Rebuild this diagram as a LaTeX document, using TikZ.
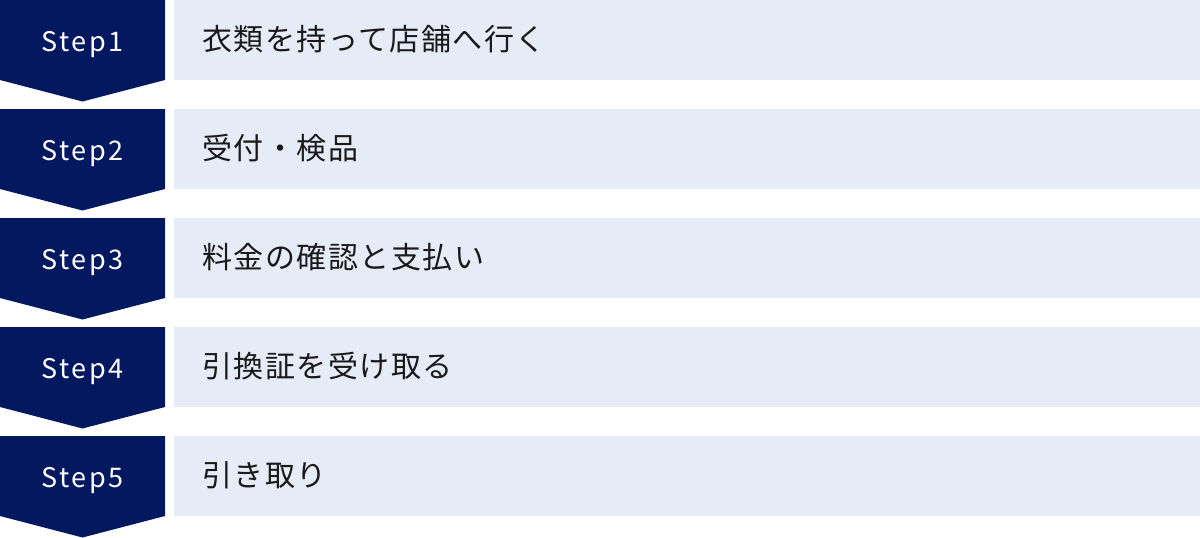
\documentclass[tikz,border=0pt]{standalone}
\usepackage{fontspec}
\setmainfont{Noto Sans CJK JP}
\newfontfamily\labfont[LetterSpace=10]{Noto Sans CJK JP}
\newfontfamily\itemfont[LetterSpace=5]{Noto Sans CJK JP}
\definecolor{navy}{RGB}{4,24,96}
\definecolor{pale}{RGB}{230,235,248}
\definecolor{ink}{RGB}{26,26,26}
\tikzset{
  chevron/.style={fill=navy,draw=none},
  panel/.style={fill=pale,draw=none},
  steplab/.style={text=white,font=\labfont\fontsize{27}{30}\selectfont,inner sep=0pt,anchor=base},
  itemtext/.style={text=ink,font=\itemfont\fontsize{30}{36}\selectfont,inner sep=0pt,anchor=base west}
}
\begin{document}
\begin{tikzpicture}[x=1pt,y=-1pt]
\useasboundingbox (0,0) rectangle (1200,538);
\foreach \i/\t in {1/衣類を持って店舗へ行く,2/受付・検品,3/料金の確認と支払い,4/引換証を受け取る,5/引き取り}{
  \pgfmathsetmacro{\top}{109*(\i-1)}
  \fill[chevron] (0,\top) -- (165,\top) -- (165,\top+80) -- (82.5,\top+101.5) -- (0,\top+80) -- cycle;
  \fill[panel] (174,\top) rectangle (1200,\top+80);
  \node[steplab] (s\i) at (82.5,\top+51) {Step\i};
  \node[itemtext] (t\i) at (202,\top+50) {\t};
}
\end{tikzpicture}
\end{document}
